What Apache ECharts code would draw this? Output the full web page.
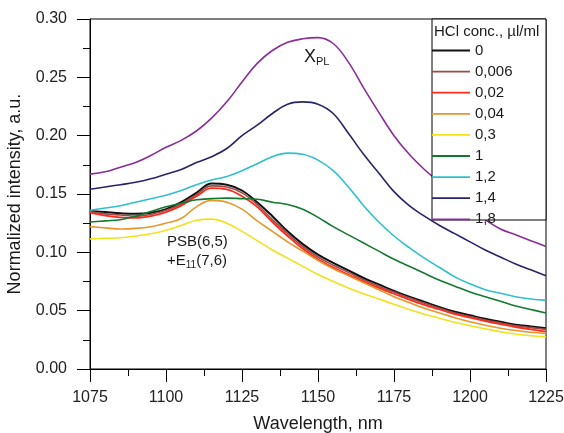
<!DOCTYPE html>
<html>
<head>
<meta charset="utf-8">
<script src="https://cdn.jsdelivr.net/npm/echarts@6/dist/echarts.min.js"></script>
<style>html,body{margin:0;padding:0;background:#fff}#c{width:564px;height:433px}</style>
</head>
<body>
<div id="c"></div>
<script>
var wavelengths = [1075,1080,1085,1090,1095,1100,1105,1110,1115,1120,1125,1130,1135,1140,1145,1150,1155,1160,1165,1170,1175,1180,1185,1190,1195,1200,1205,1210,1215,1220,1225];
var seriesNames = ['0','0,006','0,02','0,04','0,3','1','1,2','1,4','1,8'];
var c0    = [.1355,.1345,.1335,.133,.134,.137,.143,.151,.159,.158,.153,.143,.131,.118,.107,.098,.091,.0845,.078,.0725,.067,.062,.0575,.053,.049,.046,.043,.0405,.038,.0365,.035];
var c0006 = [.135,.133,.132,.131,.1325,.136,.1415,.1495,.157,.156,.151,.141,.128,.116,.105,.096,.089,.0828,.0765,.071,.066,.061,.0563,.052,.048,.045,.042,.0395,.037,.0355,.034];
var c002  = [.134,.1315,.130,.1295,.131,.1345,.140,.148,.155,.154,.148,.139,.126,.114,.103,.094,.087,.081,.075,.0695,.0645,.0595,.055,.051,.047,.044,.041,.0385,.036,.034,.032];
var c004  = [.122,.121,.120,.1205,.122,.125,.129,.139,.1445,.143,.137,.127,.118,.109,.101,.093,.086,.080,.074,.068,.062,.057,.052,.048,.044,.0405,.0375,.035,.033,.0315,.0305];
var c03   = [.1115,.112,.1125,.114,.116,.119,.123,.1275,.1285,.125,.118,.110,.102,.095,.088,.081,.075,.0695,.0645,.060,.0555,.051,.047,.0435,.040,.037,.0345,.032,.030,.0285,.0275];
var c1    = [.126,.127,.128,.131,.135,.139,.142,.145,.146,.1465,.146,.1455,.143,.141,.137,.130,.122,.115,.108,.101,.094,.088,.082,.076,.071,.066,.062,.058,.054,.051,.048];
var c12   = [.136,.138,.140,.143,.146,.149,.153,.158,.162,.165,.170,.176,.182,.185,.184,.179,.170,.156,.140,.126,.114,.104,.095,.087,.079,.073,.068,.065,.062,.060,.059];
var c14   = [.154,.156,.158,.160,.163,.167,.171,.177,.182,.189,.200,.209,.219,.227,.229,.227,.219,.202,.184,.168,.152,.140,.131,.123,.116,.109,.102,.096,.090,.085,.080];
var c18   = [.167,.169,.173,.177,.183,.190,.196,.204,.215,.229,.246,.262,.273,.280,.283,.284,.279,.263,.241,.220,.200,.184,.171,.160,.149,.138,.128,.120,.115,.110,.105];
var yTicks = ['0.00','0.05','0.10','0.15','0.20','0.25','0.30'];
var xTicks = ['1075','1100','1125','1150','1175','1200','1225'];

var allValues = [c0,c0006,c002,c004,c03,c1,c12,c14,c18];
var colors = ['#111111','#9a4a4a','#ff2a1a','#e8962a','#f2e21a','#127a2e','#2ec0cc','#26246a','#8c2c9c'];
var widths = [2,1.6,1.8,1.6,1.6,1.6,1.6,1.6,1.6];

var chart = echarts.init(document.getElementById('c'), null, {renderer:'canvas'});
var series = allValues.map(function(vals,i){
  return {
    name: seriesNames[i], type:'line', symbol:'none', smooth:0.4, z:2,
    lineStyle:{color:colors[i], width:widths[i]}, itemStyle:{color:colors[i]},
    data: wavelengths.map(function(w,j){return [w, vals[j]];})
  };
});
var font = 'Liberation Sans, Arial, sans-serif';
chart.setOption({
  animation:false,
  backgroundColor:'#fff',
  grid:{left:90,right:18,top:19,bottom:64,containLabel:false,outerBoundsMode:'none',show:true,borderColor:'#000',borderWidth:1,backgroundColor:'transparent'},
  xAxis:{type:'value',min:1075,max:1225,interval:25,
    name:'Wavelength, nm',nameLocation:'middle',nameGap:46,
    nameTextStyle:{fontFamily:font,fontSize:18,color:'#1a1a1a'},
    axisLine:{show:true,onZero:false,lineStyle:{color:'#000',width:1}},
    axisTick:{show:true,inside:false,length:13,lineStyle:{color:'#000'}},
    minorTick:{show:true,splitNumber:2,length:7,lineStyle:{color:'#000'}},
    splitLine:{show:false},minorSplitLine:{show:false},
    axisLabel:{fontFamily:font,fontSize:16,color:'#222',margin:21,
      formatter:function(v){var i=xTicks.indexOf(String(v));return i>=0?xTicks[i]:'';}}
  },
  yAxis:{type:'value',min:0,max:0.3,interval:0.05,
    name:'Normalized intensity, a.u.',nameLocation:'middle',nameGap:66,
    nameTextStyle:{fontFamily:font,fontSize:18,color:'#1a1a1a'},
    axisLine:{show:true,lineStyle:{color:'#000',width:1}},
    axisTick:{show:true,inside:false,length:13,lineStyle:{color:'#000'}},
    minorTick:{show:true,splitNumber:2,length:7,lineStyle:{color:'#000'}},
    splitLine:{show:false},minorSplitLine:{show:false},
    axisLabel:{fontFamily:font,fontSize:16,color:'#222',margin:23,
      formatter:function(v){return yTicks[Math.round(v/0.05)];}}
  },
  legend:{orient:'vertical',left:432,top:43,padding:0,icon:'rect',itemWidth:38,itemHeight:1.8,itemGap:6.1,itemTextGap:3,z:6,
    data:seriesNames, selectedMode:false,
    textStyle:{fontFamily:font,fontSize:15,color:'#1a1a1a',lineHeight:14,height:14}},
  graphic:[
    {type:'rect',z:4,shape:{x:432,y:19,width:114,height:201},style:{fill:'#fff',stroke:'#000',lineWidth:1}},
    {type:'text',z:7,left:434,top:24,style:{text:'HCl conc., \u00b5l/ml',font:'15px '+font,fill:'#1a1a1a'}},
    {type:'text',z:7,left:304,top:48,style:{text:'{a|X}{b|PL}',rich:{a:{fontSize:18,fontFamily:font,fill:'#1a1a1a'},b:{fontSize:11,fontFamily:font,fill:'#1a1a1a',padding:[10,0,0,0]}}}},
    {type:'text',z:7,left:167,top:234,style:{text:'PSB(6,5)',font:'15px '+font,fill:'#1a1a1a'}},
    {type:'text',z:7,left:167,top:253,style:{text:'{a|+E}{b|11}{a|(7,6)}',rich:{a:{fontSize:15,fontFamily:font,fill:'#1a1a1a'},b:{fontSize:10,fontFamily:font,fill:'#1a1a1a',padding:[9,0,0,0]}}}}
  ],
  series:series
});
</script>
</body>
</html>
